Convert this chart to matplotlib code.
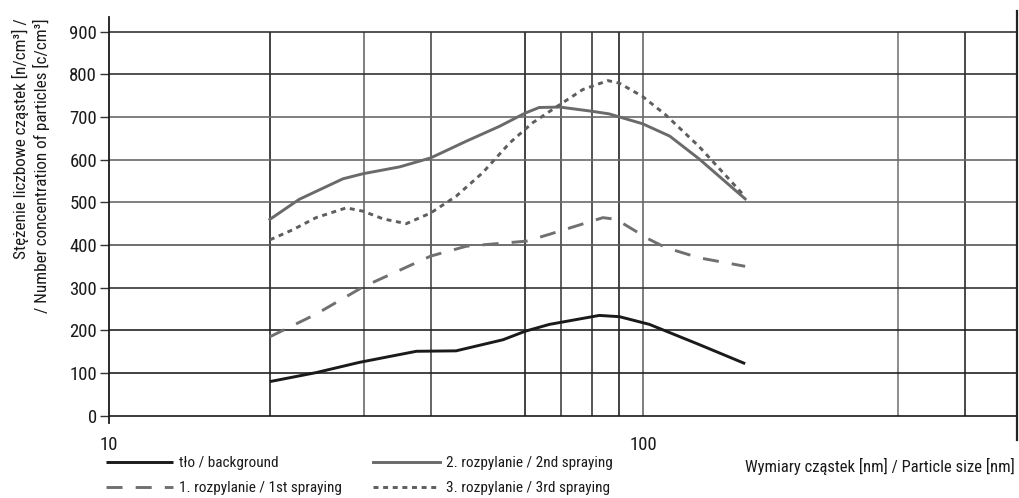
import matplotlib
matplotlib.use("Agg")
import matplotlib.pyplot as plt

plt.rcParams['font.family'] = ['Liberation Sans Narrow', 'Roboto Condensed', 'DejaVu Sans']

# particle size [nm] / concentration
bg_x = [20, 24.4, 29.4, 37.6, 44.6, 54.6, 60.1, 66.7, 82.7, 90.2, 102.6, 127, 155]
bg_y = [80, 101, 125, 151, 152, 178, 198, 214, 235, 232, 214, 167, 122]

s1_x = [20, 24.4, 29.9, 40, 46.6, 60.4, 66.7, 84, 88.9, 102.6, 110, 127, 155]
s1_y = [185, 238, 302, 374, 397, 409, 425, 464, 460, 413, 394, 370, 350]

s2_x = [20, 22.7, 27.4, 29.9, 35, 40, 46.6, 53.8, 60.1, 63.8, 69.8, 80.3, 86.3, 90.1, 99.6, 112, 127, 155]
s2_y = [460, 507, 555, 567, 583, 604, 643, 678, 709, 722, 723, 713, 707, 700, 684, 655, 602, 508]

s3_x = [20, 22.1, 24.4, 27.8, 29.9, 32.6, 36, 40, 44.6, 50, 56.2, 62, 69.8, 77, 85.8, 90.1, 99.6, 110, 127, 155]
s3_y = [412, 436, 464, 487, 479, 461, 450, 475, 514, 569, 639, 686, 729, 764, 785, 779, 748, 705, 631, 513]

labels = ['tło / background', '1. rozpylanie / 1st spraying',
          '2. rozpylanie / 2nd spraying', '3. rozpylanie / 3rd spraying']

vgrid = [20, 30, 40, 60, 70, 80, 90, 100, 300, 400]
vgrid_col = ['#222222', '#6a6a6a', '#4a4a4a', '#222222', '#444444',
             '#3a3a3a', '#222222', '#6a6a6a', '#7a7a7a', '#2a2a2a']
hgrid = [100, 200, 300, 400, 500, 600, 700, 800, 900]
hgrid_col = ['#222222', '#222222', '#333333', '#555555', '#6a6a6a',
             '#6a6a6a', '#6a6a6a', '#333333', '#333333']

fig = plt.figure(figsize=(10.19, 4.98), dpi=100)
ax = fig.add_axes([109/1019, 1 - 423/498, (1017 - 109)/1019, (423 - 17)/498])
ax.set_xscale('log')
ax.set_xlim(10, 500)
ax.set_ylim(-17, 934)

for v, c in zip(vgrid, vgrid_col):
    ax.vlines(v, 0, 900, color=c, lw=1.2, zorder=1)
for h, c in zip(hgrid, hgrid_col):
    ax.hlines(h, 10, 500, color=c, lw=1.2, zorder=1)
ax.hlines(0, 10, 500, color='#1a1a1a', lw=1.2, zorder=2)
# right border sticks out above and below
ax.plot([500, 500], [-57, 948], color='#222222', lw=1.6, clip_on=False, zorder=3)

l0, = ax.plot(bg_x, bg_y, color='#1a1a1a', lw=2.1, solid_capstyle='butt', zorder=4)
l1, = ax.plot(s1_x, s1_y, color='#707070', lw=2.1, dashes=(5.5, 4.5), zorder=4)
l2, = ax.plot(s2_x, s2_y, color='#6a6a6a', lw=2.1, zorder=4)
l3, = ax.plot(s3_x, s3_y, color='#5e5e5e', lw=2.1, dashes=(1.7, 1.6), zorder=4)

for sp in ['top', 'right', 'bottom']:
    ax.spines[sp].set_visible(False)
ax.spines['left'].set_color('#1a1a1a')
ax.spines['left'].set_linewidth(1.3)

ax.set_yticks([0] + hgrid)
ax.tick_params(axis='y', direction='out', length=6.5, width=1, color='#333333',
               labelsize=13.5, pad=2, labelcolor='#1a1a1a')
ax.set_xticks([10, 100])
ax.set_xticklabels(['10', '100'])
ax.xaxis.set_minor_locator(matplotlib.ticker.NullLocator())
ax.tick_params(axis='x', length=0, labelsize=13.5, pad=9, labelcolor='#1a1a1a')

fig.legend([l0, l1, l2, l3], labels, ncol=2, loc='upper left',
           bbox_to_anchor=(106/1019, 1 - 456/498), frameon=False, fontsize=11,
           handlelength=4.4, handletextpad=0.4, columnspacing=2.0,
           labelspacing=0.75, borderpad=0, borderaxespad=0, labelcolor='#1a1a1a')

fig.text(1015/1019, 1 - 466/498, 'Wymiary cząstek [nm] / Particle size [nm]',
         ha='right', va='center', fontsize=12, color='#1a1a1a')
fig.text(31/1019, 1 - 18/498,
         'Stężenie liczbowe cząstek [n/cm³] /\n/ Number concentration of particles [c/cm³]',
         rotation=90, ha='center', va='top', multialignment='right',
         fontsize=12.3, color='#1a1a1a', linespacing=1.3)

fig.savefig('out.png', dpi=100)
